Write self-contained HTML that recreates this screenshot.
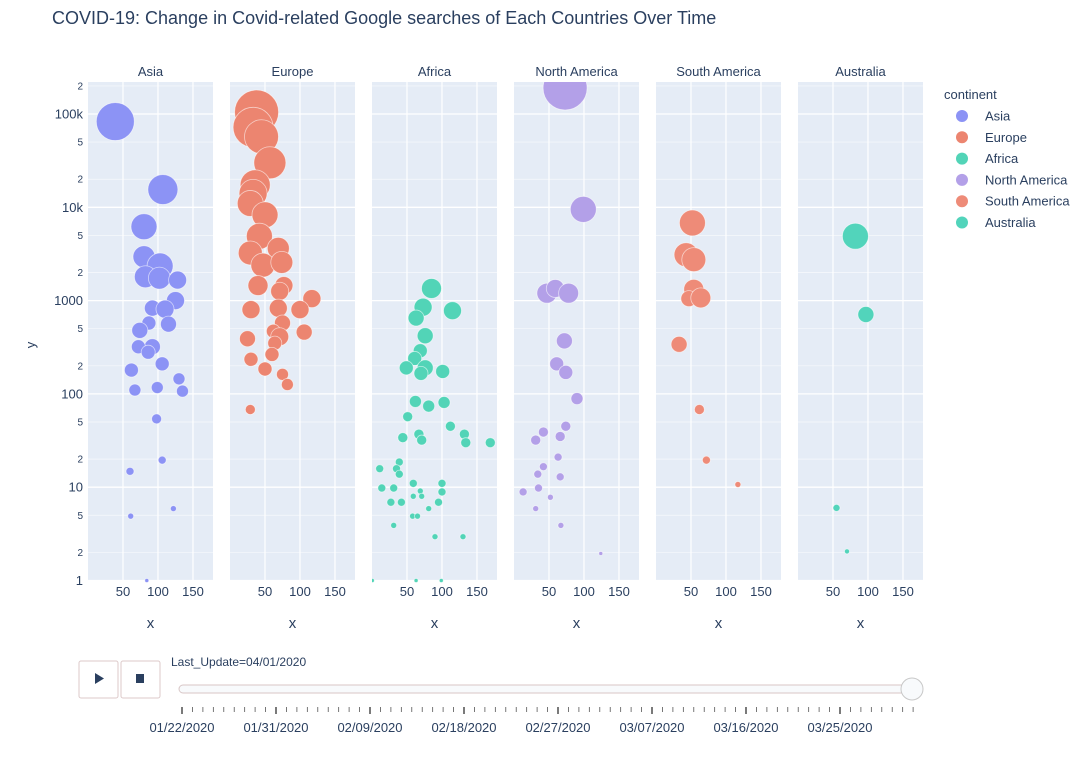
<!DOCTYPE html>
<html><head><meta charset="utf-8"><style>
body{margin:0;background:#fff;width:1092px;height:754px;overflow:hidden;font-family:"Liberation Sans",sans-serif}
svg text{font-family:"Liberation Sans",sans-serif;fill:#2a3f5f}
</style></head><body>
<svg id="chart" width="1092" height="754" xmlns="http://www.w3.org/2000/svg">
<text x="52" y="24" font-size="18">COVID-19: Change in Covid-related Google searches of Each Countries Over Time</text>
<text x="0" y="0" font-size="13" transform="translate(35,345) rotate(-90)" text-anchor="middle">y</text>
<g id="panels"></g>
<g id="legend">
<text x="944" y="99" font-size="13">continent</text>
</g>
<g id="slider">
<rect x="79" y="661" width="39" height="37" rx="2" fill="#fff" stroke="#dcc9c9"/>
<path d="M95 673 L104 678.5 L95 684 Z" fill="#2a3f5f"/>
<rect x="121" y="661" width="39" height="37" rx="2" fill="#fff" stroke="#dcc9c9"/>
<rect x="136" y="674" width="8" height="9" fill="#2a3f5f"/>
<text x="171" y="666" font-size="12">Last_Update=04/01/2020</text>
<rect x="179" y="685" width="736" height="8" rx="4" fill="#f8fafc" stroke="#d8c6c6"/>
<g id="sticks"></g>
<circle cx="912" cy="689" r="11" fill="#f8fafc" stroke="#c8c8c8"/>
</g>
</svg>
<script>
const continents=["Asia","Europe","Africa","North America","South America","Australia"];
const colors=["#8c93f5","#ec8570","#52d4b7","#b3a0e8","#ee8b78","#52d4bb"];
const yTicks=[1,10,100,1000,10000,100000];
const yTickLabels=["1","10","100","1000","10k","100k"];
const xTicks=[50,100,150];
const dateLabels=["01/22/2020","01/31/2020","02/09/2020","02/18/2020","02/27/2020","03/07/2020","03/16/2020","03/25/2020"];
const asiaX=[39,107,80,80,103,82,102,128,125,92,110,115,87,74,92,72,86,106,62,130,67,99,135,98,106,60,122,61,84];
const asiaY=[83000,15500,6200,2950,2350,1800,1740,1660,1000,830,810,560,575,480,320,320,280,210,180,145,110,117,107,54,19.5,14.8,5.9,4.9,1];
const asiaS=[19,15,13,11,13,11,11,9,9,8,9,8,7,8,8,7,7,7,7,6,6,6,6,5,4,4,3,3,2];
const euX=[38,33,45,57,36,33,29,50,42,29,69,47,74,40,77,71,117,69,30,100,75,62,71,64,106,25,30,60,50,75,82,29];
const euY=[105000,72000,57000,30000,17400,14100,11000,8300,4900,3240,3630,2400,2570,1450,1450,1260,1050,830,800,800,575,470,410,350,460,390,235,265,185,162,126,68];
const euS=[22,20,17,16,15,14,13,13,13,12,11,12,11,10,9,9,9,9,9,9,8,7,9,7,8,8,7,7,7,6,6,5];
const afX=[85,73,115,63,76,69,61,49,76,70,101,62,81,103,51,112,67,132,44,71,134,169,39,11,35,39,59,100,14,31,69,100,59,71,27,42,95,81,58,65,31,90,130,0.5,63,99];
const afY=[1350,850,780,650,420,290,240,190,190,166,174,83,74,81,57,45,37,37,34,32,30,30,18.6,15.8,15.8,13.8,11,11,9.8,9.8,9.1,8.9,8,8,6.9,6.9,6.9,5.9,4.9,4.9,3.9,2.95,2.95,1,1,1];
const afS=[10,9,9,8,8,7,7,7,8,7,7,6,6,6,5,5,5,5,5,5,5,5,4,4,4,4,4,4,4,4,3,4,3,3,4,4,4,3,3,3,3,3,3,2,2,2];
const naX=[73,99,47,59,78,72,61,74,90,74,42,31,66,63,42,34,66,35,13,52,31,67,124];
const naY=[190000,9500,1200,1350,1200,370,210,170,89,45,39,32,35,21,16.6,13.8,12.9,9.8,8.9,7.8,5.9,3.9,1.95];
const naS=[22,13,10,9,10,8,7,7,6,5,5,5,5,4,4,4,4,4,4,3,3,3,2];
const saX=[52,43,54,54,47,64,33,62,72,117];
const saY=[6800,3100,2750,1320,1050,1070,340,68,19.5,10.7];
const saS=[13,12,12,10,8,10,8,5,4,3];
const auX=[82,97,55,70];
const auY=[4900,710,6,2.05];
const auS=[13,8,3.5,2.5];
const seriesX=[asiaX,euX,afX,naX,saX,auX];
const seriesY=[asiaY,euY,afY,naY,saY,auY];
const seriesS=[asiaS,euS,afS,naS,saS,auS];

const NS="http://www.w3.org/2000/svg";
const panelLeft=88,panelStep=142,panelW=125,plotTop=82,plotBottom=580.5;
const xMax=178.6;
function yScale(v){return plotBottom-Math.log10(v)*93.3;}
function xScale(v,p){return panelLeft+p*panelStep+v/xMax*panelW;}
function sScale(s){return s;}
function mk(tag,attrs,parent){const e=document.createElementNS(NS,tag);for(const k in attrs)e.setAttribute(k,attrs[k]);parent.appendChild(e);return e;}
const panels=document.getElementById('panels');
const svg=document.getElementById('chart');
for(let i=0;i<yTicks.length;i++){
  const t=mk('text',{x:83,y:yScale(yTicks[i])+4.5,'font-size':13,'text-anchor':'end'},svg);
  
  
  t.textContent=yTickLabels[i];
  for(const m of [2,5]){
    const v=yTicks[i]*m; const yy=yScale(v); if(yy<plotTop-4)continue;
    const s=mk('text',{x:83,y:yy+3.5,'font-size':10,'text-anchor':'end'},svg);
    
    
    s.textContent=String(m);
  }
}
for(let p=0;p<continents.length;p++){
  const g=mk('g',{},panels);
  
  
  const x0=panelLeft+p*panelStep;
  const bg=mk('rect',{x:x0,y:plotTop,width:panelW,height:plotBottom-plotTop,fill:'#e5ecf6'},g);
  
  
  for(const t of yTicks){
    for(const m of [1,2,5]){const yy=yScale(t*m);if(yy<plotTop)continue;
      mk('line',{x1:x0,x2:x0+panelW,y1:yy,y2:yy,stroke:'#fff','stroke-width':m===1?1.3:0.7,'stroke-opacity':m===1?1:0.7},g);}
  }
  for(const t of xTicks){const xx=xScale(t,p);
    mk('line',{x1:xx,x2:xx,y1:plotTop,y2:plotBottom,stroke:'#fff','stroke-width':1.2},g);
    const lt=mk('text',{x:xx,y:596,'font-size':13,'text-anchor':'middle'},g);
    
    
    lt.textContent=t;}
  const xt=mk('text',{x:x0+panelW/2,y:628,'font-size':15,'text-anchor':'middle'},g);
  
  
  xt.textContent='x';
  const ft=mk('text',{x:x0+panelW/2,y:76,'font-size':13,'text-anchor':'middle'},g);
  
  
  ft.textContent=continents[p];
  const cp=mk('clipPath',{id:'cp'+p},g);
  mk('rect',{x:x0,y:plotTop,width:panelW,height:plotBottom-plotTop+3},cp);
  const mg=mk('g',{'clip-path':'url(#cp'+p+')'},g);
  const xs=seriesX[p],ys=seriesY[p],ss=seriesS[p];
  for(let i=0;i<xs.length;i++){
    const c=mk('circle',{cx:xScale(xs[i],p),cy:yScale(ys[i]),r:sScale(ss[i]),fill:colors[p],stroke:'#fff','stroke-width':0.8,'stroke-opacity':0.6},mg);
    
    
  }
}
const lg=document.getElementById('legend');
for(let i=0;i<continents.length;i++){
  const y=116+i*21.3;
  const c=mk('circle',{cx:962,cy:y,r:6,fill:colors[i]},lg);
  
  
  const t=mk('text',{x:985,y:y+4.5,'font-size':13},lg);
  
  
  t.textContent=continents[i];
}
const st=document.getElementById('sticks');
const tickStart=182,tickStep=94/9;
for(let i=0;i<=70;i++){
  const x=tickStart+i*tickStep; const major=i%9===0;
  mk('line',{x1:x,x2:x,y1:707,y2:major?714:712,stroke:major?'#333':'#555','stroke-width':major?1.3:0.8},st);
}
for(let i=0;i<dateLabels.length;i++){
  const t=mk('text',{x:tickStart+i*9*tickStep,y:732,'font-size':13,'text-anchor':'middle'},st);
  
  
  t.textContent=dateLabels[i];
}
</script>
</body></html>
